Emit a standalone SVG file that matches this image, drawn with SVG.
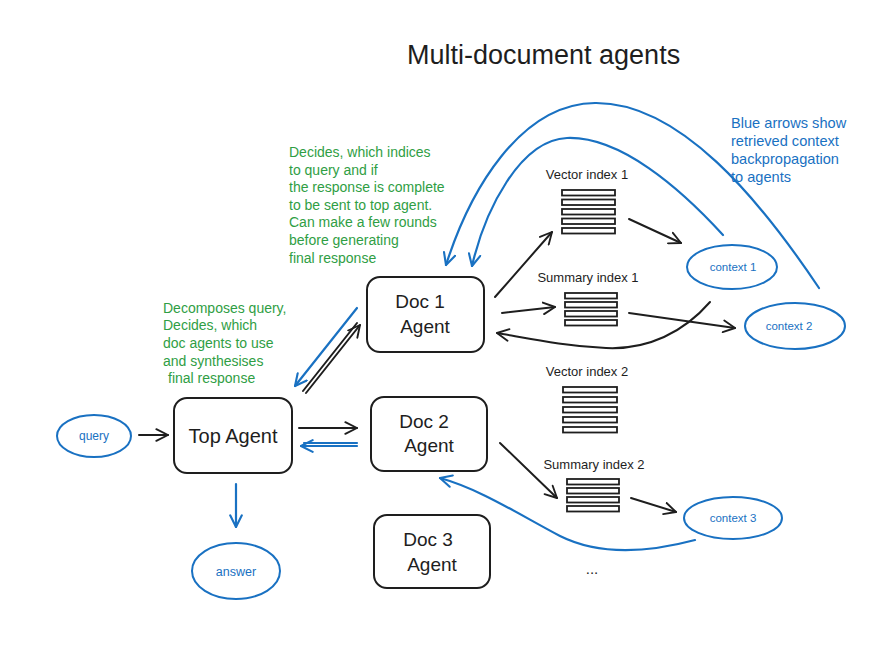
<svg xmlns="http://www.w3.org/2000/svg" width="896" height="650" viewBox="0 0 896 650">
  <style>
    .box { fill: none; stroke: #1e1e1e; stroke-width: 2; }
    .bar { fill: none; stroke: #1e1e1e; stroke-width: 1.8; }
    .oval { fill: none; stroke: #1971c2; stroke-width: 2; }
    .blk { fill: none; stroke: #1e1e1e; stroke-width: 2; stroke-linecap: round; }
    .blu { fill: none; stroke: #1971c2; stroke-width: 2.2; stroke-linecap: round; }
    text { font-family: "Liberation Sans", "DejaVu Sans", sans-serif; }
    .title { font-size: 27px; fill: #1e1e1e; }
    .agent { font-size: 19px; fill: #1e1e1e; text-anchor: middle; }
    .idx { font-size: 13px; fill: #1e1e1e; text-anchor: middle; }
    .ctx { font-size: 11.5px; fill: #1971c2; text-anchor: middle; }
    .note-g { font-size: 14px; fill: #2f9e44; }
    .note-b { font-size: 14.6px; fill: #1971c2; }
  </style>
  <defs>
    <marker id="ah-black" viewBox="0 0 12 12" refX="11" refY="6" markerWidth="14" markerHeight="14" markerUnits="userSpaceOnUse" orient="auto">
      <path d="M1,1 L11,6 L1,11" fill="none" stroke="#1e1e1e" stroke-width="1.6" stroke-linecap="round" stroke-linejoin="round"/>
    </marker>
    <marker id="ah-blue" viewBox="0 0 12 12" refX="11" refY="6" markerWidth="14" markerHeight="14" markerUnits="userSpaceOnUse" orient="auto">
      <path d="M1,1 L11,6 L1,11" fill="none" stroke="#1971c2" stroke-width="1.8" stroke-linecap="round" stroke-linejoin="round"/>
    </marker>
  </defs>

  <rect width="896" height="650" fill="#ffffff"/>

  <!-- heading -->
  <text class="title" x="407" y="64">Multi-document agents</text>

  <!-- annotations -->
  <g id="note-doc-agent">
    <text class="note-g" x="289" y="157">Decides, which indices</text>
    <text class="note-g" x="289" y="175">to query and if</text>
    <text class="note-g" x="289" y="192">the response is complete</text>
    <text class="note-g" x="289" y="210">to be sent to top agent.</text>
    <text class="note-g" x="289" y="227">Can make a few rounds</text>
    <text class="note-g" x="289" y="245">before generating</text>
    <text class="note-g" x="289" y="263">final response</text>
  </g>
  <g id="note-top-agent">
    <text class="note-g" x="163" y="313">Decomposes query,</text>
    <text class="note-g" x="163" y="330">Decides, which</text>
    <text class="note-g" x="163" y="348">doc agents to use</text>
    <text class="note-g" x="163" y="366">and synthesises</text>
    <text class="note-g" x="168" y="383">final response</text>
  </g>
  <g id="note-blue">
    <text class="note-b" x="731" y="128">Blue arrows show</text>
    <text class="note-b" x="731" y="146">retrieved context</text>
    <text class="note-b" x="731" y="164">backpropagation</text>
    <text class="note-b" x="731" y="182">to agents</text>
  </g>

  <!-- nodes -->
  <g id="query">
    <ellipse class="oval" cx="94" cy="436" rx="37" ry="21"/>
    <text class="ctx" x="94" y="440" style="font-size:12px">query</text>
  </g>
  <g id="top-agent">
    <rect class="box" x="174" y="398" width="118" height="75" rx="13"/>
    <text class="agent" x="233" y="443" style="font-size:20px">Top Agent</text>
  </g>
  <g id="answer">
    <ellipse class="oval" cx="236" cy="571" rx="44" ry="28"/>
    <text class="ctx" x="236" y="576" style="font-size:12.5px">answer</text>
  </g>
  <g id="doc1-agent">
    <rect class="box" x="367" y="277" width="117" height="75" rx="13"/>
    <text class="agent" x="420" y="308">Doc 1</text>
    <text class="agent" x="425" y="333">Agent</text>
  </g>
  <g id="doc2-agent">
    <rect class="box" x="371" y="397" width="116" height="74" rx="13"/>
    <text class="agent" x="424" y="428">Doc 2</text>
    <text class="agent" x="429" y="452">Agent</text>
  </g>
  <g id="doc3-agent">
    <rect class="box" x="374" y="515" width="116" height="73" rx="13"/>
    <text class="agent" x="428" y="546">Doc 3</text>
    <text class="agent" x="432" y="571">Agent</text>
  </g>

  <g id="vector-index-1">
    <text class="idx" x="587" y="179">Vector index 1</text>
    <rect class="bar" x="562" y="190" width="53" height="5.5"/>
    <rect class="bar" x="562" y="199.5" width="53" height="5.5"/>
    <rect class="bar" x="562" y="209" width="53" height="5.5"/>
    <rect class="bar" x="562" y="218.5" width="53" height="5.5"/>
    <rect class="bar" x="562" y="228" width="53" height="5.5"/>
  </g>
  <g id="summary-index-1">
    <text class="idx" x="588" y="282">Summary index 1</text>
    <rect class="bar" x="565" y="293" width="52" height="5.5"/>
    <rect class="bar" x="565" y="302" width="52" height="5.5"/>
    <rect class="bar" x="565" y="311" width="52" height="5.5"/>
    <rect class="bar" x="565" y="320" width="52" height="5.5"/>
  </g>
  <g id="vector-index-2">
    <text class="idx" x="587" y="376">Vector index 2</text>
    <rect class="bar" x="563" y="387" width="54" height="5.5"/>
    <rect class="bar" x="563" y="397" width="54" height="5.5"/>
    <rect class="bar" x="563" y="407" width="54" height="5.5"/>
    <rect class="bar" x="563" y="417" width="54" height="5.5"/>
    <rect class="bar" x="563" y="427" width="54" height="5.5"/>
  </g>
  <g id="summary-index-2">
    <text class="idx" x="594" y="469">Summary index 2</text>
    <rect class="bar" x="567" y="479" width="52" height="5.5"/>
    <rect class="bar" x="567" y="488" width="52" height="5.5"/>
    <rect class="bar" x="567" y="497" width="52" height="5.5"/>
    <rect class="bar" x="567" y="506" width="52" height="5.5"/>
  </g>
  <g id="more-docs">
    <text class="idx" x="592" y="574" style="font-size:15px">...</text>
  </g>

  <g id="context-1">
    <ellipse class="oval" cx="732" cy="267" rx="45" ry="22"/>
    <text class="ctx" x="733" y="271">context 1</text>
  </g>
  <g id="context-2">
    <ellipse class="oval" cx="795" cy="326" rx="50" ry="23"/>
    <text class="ctx" x="789" y="330">context 2</text>
  </g>
  <g id="context-3">
    <ellipse class="oval" cx="733" cy="518" rx="49" ry="21"/>
    <text class="ctx" x="733" y="522">context 3</text>
  </g>

  <!-- connectors -->
  <g id="connectors">
    <!-- requests flowing down to indices -->
    <path class="blk" d="M139,435 L168,435" marker-end="url(#ah-black)"/>
    <path class="blk" d="M299,428 L357,428" marker-end="url(#ah-black)"/>
    <path class="blk" d="M306,393 L360,325" marker-end="url(#ah-black)"/>
    <path class="blk" d="M303,391 L357,323"/>
    <path class="blk" d="M495,297 L552,232" marker-end="url(#ah-black)"/>
    <path class="blk" d="M502,313 L555,307" marker-end="url(#ah-black)"/>
    <path class="blk" d="M629,219 L681,243" marker-end="url(#ah-black)"/>
    <path class="blk" d="M629,313 L735,328" marker-end="url(#ah-black)"/>
    <path class="blk" d="M710,302 C684,332 648,350 606,348 C565,346 532,339 497,333" marker-end="url(#ah-black)"/>
    <path class="blk" d="M500,443 L557,498" marker-end="url(#ah-black)"/>
    <path class="blk" d="M631,498 L676,512" marker-end="url(#ah-black)"/>

    <!-- retrieved context going back up -->
    <path class="blu" d="M357,446 L301,446" marker-end="url(#ah-blue)"/>
    <path class="blu" d="M357,443 L304,443"/>
    <path class="blu" d="M357,308 L295,386" marker-end="url(#ah-blue)"/>
    <path class="blu" d="M819,288 C760,200 680,102 595,103 C520,104 470,190 446,265" marker-end="url(#ah-blue)"/>
    <path class="blu" d="M723,235 C680,188 620,136 567,138 C520,140 485,210 472,266" marker-end="url(#ah-blue)"/>
    <path class="blu" d="M695,540 C650,552 600,556 560,536 C520,515 480,489 440,478" marker-end="url(#ah-blue)"/>
    <path class="blu" d="M236,484 L236,527" marker-end="url(#ah-blue)"/>
  </g>
</svg>
